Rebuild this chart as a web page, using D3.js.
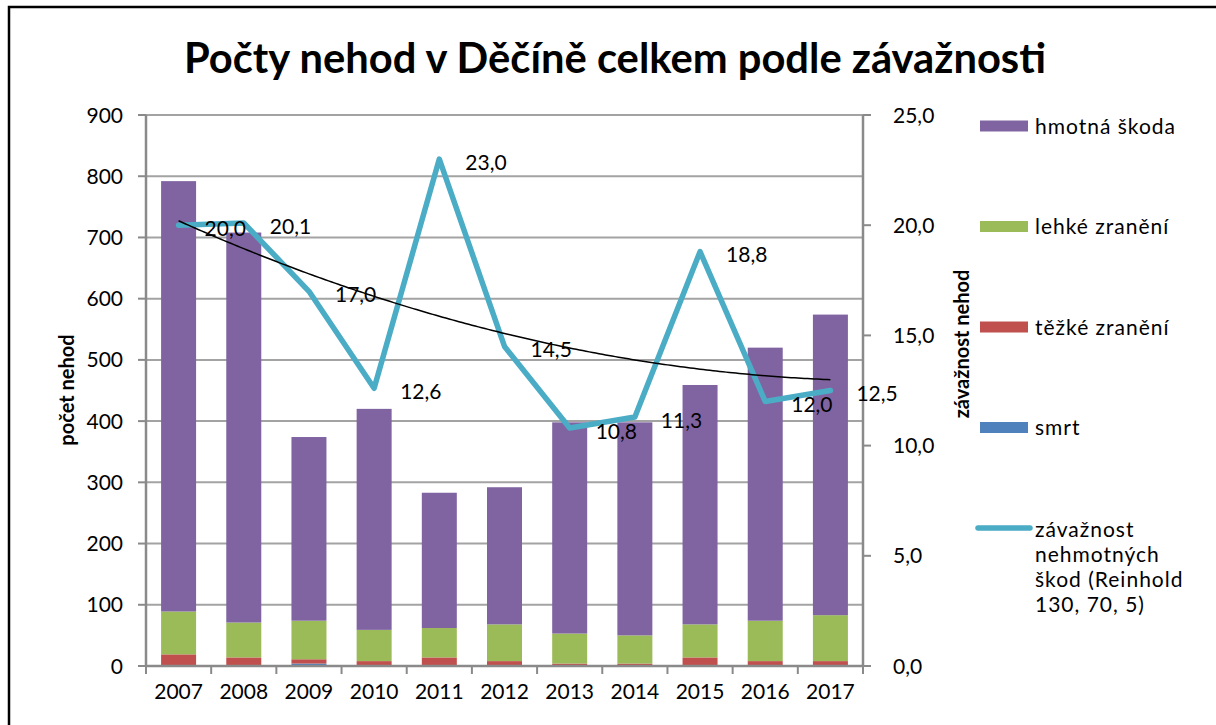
<!DOCTYPE html>
<html>
<head>
<meta charset="utf-8">
<script src="https://cdn.jsdelivr.net/npm/d3@7"></script>
<style>
  body { margin: 0; background: #fff; }
  svg { display: block; font-family: Lato, "Open Sans", sans-serif; }
</style>
</head>
<body>
<div id="chart"></div>
<script>
// data
const years = ['2007', '2008', '2009', '2010', '2011', '2012', '2013', '2014', '2015', '2016', '2017'];
const smrt = [0, 1, 4, 0, 1, 1, 1, 0, 1, 0, 1];
const tezke = [19, 13, 7, 8, 13, 7, 3, 4, 13, 8, 7];
const lehke = [70, 57, 63, 51, 48, 60, 49, 46, 54, 66, 75];
const hmotna = [703, 637, 300, 361, 221, 224, 345, 348, 391, 446, 491];
const zavaznost = [20.0, 20.1, 17.0, 12.6, 23.0, 14.5, 10.8, 11.3, 18.8, 12.0, 12.5];
const leftTicks = [0, 100, 200, 300, 400, 500, 600, 700, 800, 900];
const rightTicks = [0, 5, 10, 15, 20, 25];

const series = [
  { key: 'smrt', label: 'smrt', color: '#4F81BD', values: smrt },
  { key: 'tezke', label: 'těžké zranění', color: '#C0504D', values: tezke },
  { key: 'lehke', label: 'lehké zranění', color: '#9BBB59', values: lehke },
  { key: 'hmotna', label: 'hmotná škoda', color: '#8064A2', values: hmotna }
];
const lineColor = '#4BACC6';

const W = 1216, H = 725;
const plot = { left: 146, right: 863, top: 115, bottom: 666 };

const svg = d3.select('#chart').append('svg')
  .attr('width', W).attr('height', H);

// outer frame
svg.append('rect')
  .attr('x', 9).attr('y', 7)
  .attr('width', W + 20).attr('height', H + 20)
  .attr('fill', 'none').attr('stroke', '#000').attr('stroke-width', 2.5);

// scales
const xBand = d3.scaleBand().domain(years).range([plot.left, plot.right]);
const y = d3.scaleLinear().domain([0, 900]).range([plot.bottom, plot.top]);
const y2 = d3.scaleLinear().domain([0, 25]).range([plot.bottom, plot.top]);
const cx = d => xBand(d) + xBand.bandwidth() / 2;
const barW = 35;

// gridlines
svg.append('g')
  .selectAll('line')
  .data(leftTicks.filter(t => t > 0))
  .enter()
  .append('line')
  .attr('x1', plot.left).attr('x2', plot.right)
  .attr('y1', d => y(d)).attr('y2', d => y(d))
  .attr('stroke', '#a3a3a3').attr('stroke-width', 2);

// stacked bars
const rows = years.map((yr, i) => {
  const r = { year: yr };
  series.forEach(s => { r[s.key] = s.values[i]; });
  return r;
});
const stacked = d3.stack().keys(series.map(s => s.key))(rows);

svg.append('g')
  .selectAll('g')
  .data(stacked)
  .enter()
  .append('g')
  .attr('fill', (d, i) => series[i].color)
  .selectAll('rect')
  .data(d => d)
  .enter()
  .append('rect')
  .attr('x', d => cx(d.data.year) - barW / 2)
  .attr('width', barW)
  .attr('y', d => y(d[1]))
  .attr('height', d => Math.max(0, y(d[0]) - y(d[1])));

// axes lines
const axisColor = '#8a8a8a';
svg.append('line')
  .attr('x1', plot.left).attr('x2', plot.left)
  .attr('y1', plot.top).attr('y2', plot.bottom + 1)
  .attr('stroke', axisColor).attr('stroke-width', 2.5);
svg.append('line')
  .attr('x1', plot.right).attr('x2', plot.right)
  .attr('y1', plot.top).attr('y2', plot.bottom + 1)
  .attr('stroke', axisColor).attr('stroke-width', 2.5);
svg.append('line')
  .attr('x1', plot.left - 1).attr('x2', plot.right + 1)
  .attr('y1', plot.bottom).attr('y2', plot.bottom)
  .attr('stroke', axisColor).attr('stroke-width', 2.5);

// left ticks + labels
const lt = svg.append('g');
lt.selectAll('line').data(leftTicks).enter().append('line')
  .attr('x1', plot.left - 8).attr('x2', plot.left)
  .attr('y1', d => y(d)).attr('y2', d => y(d))
  .attr('stroke', axisColor).attr('stroke-width', 2);
lt.selectAll('text').data(leftTicks).enter().append('text')
  .attr('x', plot.left - 23).attr('y', d => y(d)).attr('dy', '0.36em')
  .attr('text-anchor', 'end')
  .style('font-size', '21px').style('fill', '#000')
  .text(d => d);

// right ticks + labels
const rt = svg.append('g');
rt.selectAll('line').data(rightTicks).enter().append('line')
  .attr('x1', plot.right).attr('x2', plot.right + 8)
  .attr('y1', d => y2(d)).attr('y2', d => y2(d))
  .attr('stroke', axisColor).attr('stroke-width', 2);
rt.selectAll('text').data(rightTicks).enter().append('text')
  .attr('x', plot.right + 30).attr('y', d => y2(d)).attr('dy', '0.36em')
  .attr('text-anchor', 'start')
  .style('font-size', '21px').style('fill', '#000')
  .text(d => d3.format('.1f')(d).replace('.', ','));

// x ticks + labels
const xb = svg.append('g');
xb.selectAll('line').data(d3.range(years.length + 1)).enter().append('line')
  .attr('x1', i => plot.left + i * xBand.step()).attr('x2', i => plot.left + i * xBand.step())
  .attr('y1', plot.bottom).attr('y2', plot.bottom + 8)
  .attr('stroke', axisColor).attr('stroke-width', 2);
xb.selectAll('text').data(years).enter().append('text')
  .attr('x', d => cx(d)).attr('y', 691).attr('dy', '0.36em')
  .attr('text-anchor', 'middle')
  .style('font-size', '21px').style('fill', '#000')
  .text(d => d);

// axis titles
svg.append('text')
  .attr('transform', 'translate(67,390) rotate(-90)')
  .attr('text-anchor', 'middle').attr('dy', '0.35em')
  .style('font-size', '20px').style('font-weight', 'bold')
  .text('počet nehod');
svg.append('text')
  .attr('transform', 'translate(962,344) rotate(-90)')
  .attr('text-anchor', 'middle').attr('dy', '0.35em')
  .style('font-size', '20px').style('font-weight', 'bold')
  .text('závažnost  nehod');

// severity line
const line = d3.line()
  .x((d, i) => cx(years[i]))
  .y(d => y2(d));
svg.append('path')
  .datum(zavaznost)
  .attr('d', line)
  .attr('fill', 'none')
  .attr('stroke', lineColor)
  .attr('stroke-width', 5.5)
  .attr('stroke-linejoin', 'round')
  .attr('stroke-linecap', 'round');

// polynomial (order 2) trendline, least squares on the line series
const xs = zavaznost.map((d, i) => i + 1);
const n = xs.length;
const S = k => d3.sum(xs, v => Math.pow(v, k));
const T = k => d3.sum(xs, (v, i) => Math.pow(v, k) * zavaznost[i]);
const A = [[n, S(1), S(2)], [S(1), S(2), S(3)], [S(2), S(3), S(4)]];
const B = [T(0), T(1), T(2)];
function solve3(M, b) {
  const m = M.map((r, i) => r.concat([b[i]]));
  for (let c = 0; c < 3; c++) {
    for (let r = c + 1; r < 3; r++) {
      const f = m[r][c] / m[c][c];
      for (let k = c; k < 4; k++) m[r][k] -= f * m[c][k];
    }
  }
  const out = [0, 0, 0];
  for (let r = 2; r >= 0; r--) {
    let s = m[r][3];
    for (let k = r + 1; k < 3; k++) s -= m[r][k] * out[k];
    out[r] = s / m[r][r];
  }
  return out;
}
const coef = solve3(A, B);
const trendPts = d3.range(1, n + 0.001, 0.05).map(t => [
  cx(years[0]) + (t - 1) * xBand.step(),
  y2(coef[0] + coef[1] * t + coef[2] * t * t)
]);
svg.append('path')
  .attr('d', d3.line()(trendPts))
  .attr('fill', 'none')
  .attr('stroke', '#000')
  .attr('stroke-width', 1.5);

// data labels
svg.append('g')
  .selectAll('text')
  .data(zavaznost)
  .enter()
  .append('text')
  .attr('x', (d, i) => cx(years[i]) + 26)
  .attr('y', d => y2(d) + 3)
  .attr('dy', '0.36em')
  .style('font-size', '21px').style('fill', '#000')
  .text(d => d3.format('.1f')(d).replace('.', ','));

// legend
const legendItems = series.slice().reverse();
const lg = svg.append('g');
legendItems.forEach((s, i) => {
  const ly = 126 + i * 100.5;
  lg.append('rect')
    .attr('x', 980).attr('y', ly - 5.5)
    .attr('width', 48).attr('height', 11)
    .attr('fill', s.color);
  lg.append('text')
    .attr('x', 1035).attr('y', ly).attr('dy', '0.36em')
    .style('font-size', '21px').style('letter-spacing', '1px')
    .text(s.label);
});
const lineY = 126 + 4 * 100.5;
lg.append('line')
  .attr('x1', 978).attr('x2', 1030)
  .attr('y1', lineY).attr('y2', lineY)
  .attr('stroke', lineColor).attr('stroke-width', 5.5)
  .attr('stroke-linecap', 'round');
const lineLabel = ['závažnost', 'nehmotných', 'škod (Reinhold', '130, 70, 5)'];
lg.append('text')
  .attr('x', 1035).attr('y', lineY + 1)
  .style('font-size', '21px').style('letter-spacing', '1px')
  .selectAll('tspan')
  .data(lineLabel)
  .enter()
  .append('tspan')
  .attr('x', 1035)
  .attr('dy', (d, i) => i === 0 ? '0.36em' : '25.3px')
  .text(d => d);

// title
const title = svg.append('text')
  .attr('x', 615).attr('y', 58).attr('dy', '0.35em')
  .attr('text-anchor', 'middle')
  .style('font-size', '40px').style('font-weight', 'bold')
  .text('Počty nehod v Děčíně celkem podle závažnosti');
const tw = title.node().getComputedTextLength();
if (tw > 0) title.style('font-size', (40 * Math.min(1.1, 863 / tw)).toFixed(1) + 'px');
</script>
</body>
</html>
